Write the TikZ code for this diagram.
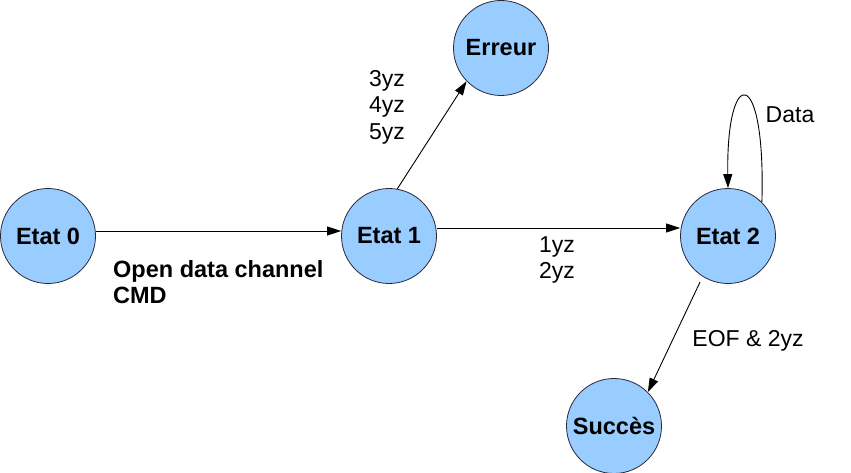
\documentclass[tikz,border=0pt]{standalone}
\usepackage{fontspec}
\setmainfont{Liberation Sans}
\usetikzlibrary{arrows.meta}
\definecolor{stfill}{RGB}{153,204,255}
\definecolor{stline}{RGB}{40,40,60}
\tikzset{
  state/.style={circle, draw=stline, line width=0.8pt, fill=stfill, minimum size=95pt, inner sep=0pt,
    font=\fontsize{23.5}{27}\selectfont\bfseries},
  trans/.style={-{Triangle[length=14pt,width=9pt]}, line width=0.9pt},
  lbl/.style={font=\fontsize{23}{26.5}\selectfont, align=center, inner sep=0pt},
  lblb/.style={font=\fontsize{23.5}{26.5}\selectfont\bfseries, align=left, inner sep=0pt}
}
\begin{document}
\begin{tikzpicture}[x=1pt,y=-1pt]
\useasboundingbox (0,0) rectangle (851,473);
\node[state] (e0) at (48,236) {Etat 0};
\node[state] (e1) at (389,236) {Etat 1};
\node[state] (e2) at (728,236) {Etat 2};
\node[state] (err) at (501,48) {Erreur};
\node[state] (suc) at (614,426) {Succès};

\draw[trans] ([yshift=5pt]e0.east) -- ([yshift=5pt]e1.west);
\draw[trans] ([yshift=8pt]e1.east) -- ([yshift=8pt]e2.west);
\draw[trans] (e1.80) -- (err.224);
\draw[trans, shorten <=6pt] (e2.238) -- (suc.45);
\draw[trans] (e2.45) .. controls (766,64) and (726,64) .. (e2.90);

\node[lbl] (l1) at (387,107) {3yz\\4yz\\5yz};
\node[lbl] (l2) at (790,115) {Data};
\node[lbl] (l3) at (557,260) {1yz\\2yz};
\node[lblb, anchor=west] (l4) at (113,282) {Open data channel\\CMD};
\node[lbl] (l5) at (748,341) {EOF \& 2yz};
\end{tikzpicture}
\end{document}
